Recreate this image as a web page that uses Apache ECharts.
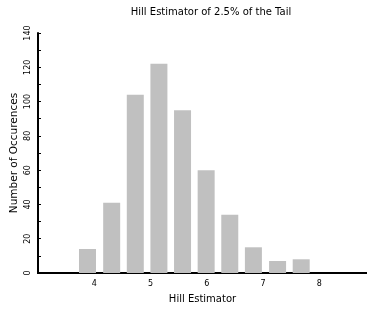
<!DOCTYPE html>
<html>
<head>
<meta charset="utf-8">
<script src="https://cdn.jsdelivr.net/npm/echarts@6/dist/echarts.min.js"></script>
<style>
	html, body { margin: 0; padding: 0; background: #fff; }
	#chart { width: 367px; height: 311px; }
</style>
</head>
<body>
<div id="chart"></div>
<script>
// 直方图数据 (柱中心 & 次数)
var binCenters = [3.88, 4.31, 4.73, 5.15, 5.57, 5.99, 6.41, 6.83, 7.26, 7.68];
var counts = [14, 41, 104, 122, 95, 60, 34, 15, 7, 8];
var xTicks = [4, 5, 6, 7, 8];
var yTicks = [0, 20, 40, 60, 80, 100, 120, 140];

var font = 'DejaVu Sans';
var chart = echarts.init(document.getElementById('chart'));

chart.setOption({
	animation: false,
	title: {
		text: 'Hill Estimator of 2.5% of the Tail',
		left: 206,
		textAlign: 'center',
		top: 2,
		textStyle: { fontFamily: font, fontSize: 10, fontWeight: 'normal', color: '#000' }
	},
	grid: { left: 38, right: 0, top: 33, bottom: 38, outerBoundsMode: 'none' },
	xAxis: [{
		type: 'value',
		min: 3,
		max: 8.85,
		interval: 1,
		name: 'Hill Estimator',
		nameLocation: 'middle',
		nameGap: 21,
		nameMoveOverlap: false,
		nameTextStyle: { fontFamily: font, fontSize: 10, color: '#000' },
		axisLine: { onZero: false, lineStyle: { color: '#000', width: 2 } },
		axisTick: { show: false },
		splitLine: { show: false },
		axisLabel: {
			fontFamily: font, fontSize: 8, color: '#000', margin: 7,
			showMaxLabel: false,
			formatter: function (v) { return xTicks.indexOf(v) >= 0 ? String(v) : ''; }
		}
	}, {
		type: 'value',
		position: 'top',
		min: 3,
		max: 8.85,
		axisLine: { show: true, lineStyle: { color: '#000', width: 2 } },
		axisTick: { show: false },
		axisLabel: { show: false },
		splitLine: { show: false }
	}],
	yAxis: {
		type: 'value',
		min: 0,
		max: 140,
		interval: 10,
		name: 'Number of Occurences',
		nameLocation: 'middle',
		nameGap: 18,
		nameMoveOverlap: false,
		nameTextStyle: { fontFamily: font, fontSize: 10.5, color: '#000' },
		axisLine: { show: true, lineStyle: { color: '#000', width: 2 } },
		axisTick: { show: true, inside: true, length: 3, lineStyle: { color: '#000' } },
		splitLine: { show: false },
		axisLabel: {
			fontFamily: font, fontSize: 8, color: '#000', rotate: 90, margin: 6,
			formatter: function (v) { return yTicks.indexOf(v) >= 0 ? String(v) : ''; }
		}
	},
	series: [{
		type: 'bar',
		xAxisIndex: 0,
		barWidth: 17,
		itemStyle: { color: '#c0c0c0' },
		data: binCenters.map(function (x, i) { return [x, counts[i]]; })
	}]
});
</script>
</body>
</html>
